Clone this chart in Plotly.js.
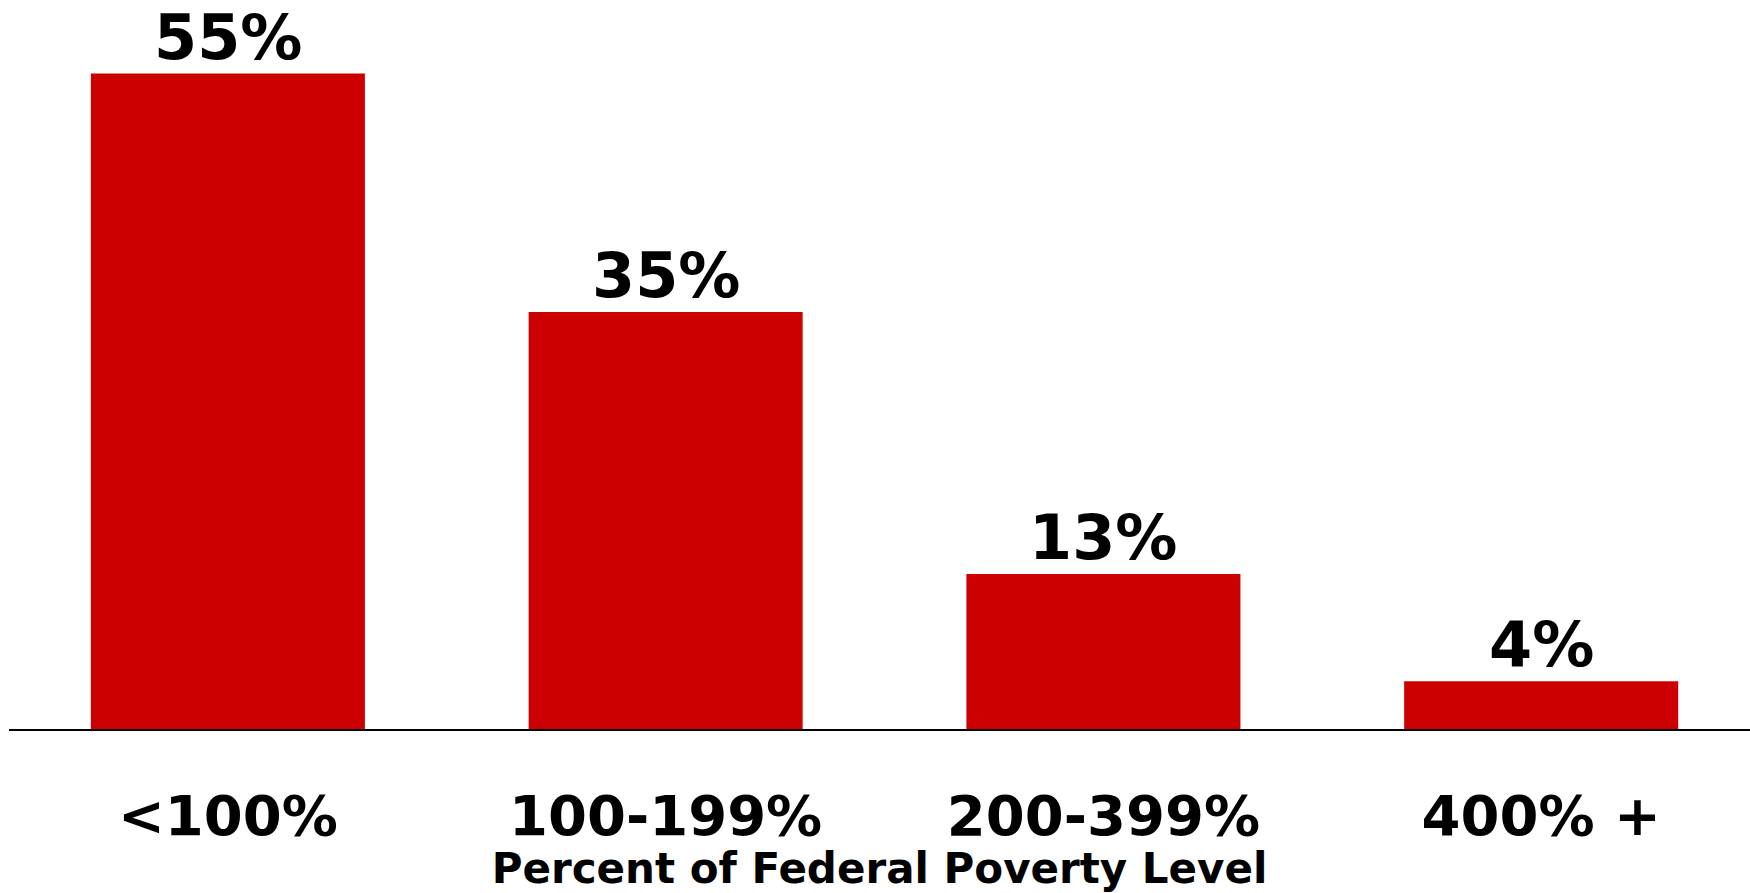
<!DOCTYPE html>
<html>
<head>
<meta charset="utf-8">
<script src="https://cdn.plot.ly/plotly-3.0.1.min.js"></script>
<style>html,body{margin:0;padding:0;background:#fff;}#chart{width:1750px;height:893px;}</style>
</head>
<body>
<div id="chart"></div>
<script>
const categories = ["<100%", "100-199%", "200-399%", "400% +"];
const values = [55, 35, 13, 4];
const valueLabels = ["55%", "35%", "13%", "4%"];
const xTitle = "Percent of Federal Poverty Level";

const trace = {
  type: "bar",
  x: categories,
  y: values,
  cliponaxis: false,
  marker: {color: "#CC0000", line: {width: 0}},
  hoverinfo: "none"
};

const annotations = categories.map((c, i) => ({
  x: c,
  y: values[i],
  xref: "x",
  yref: "y",
  text: valueLabels[i],
  showarrow: false,
  yanchor: "bottom",
  yshift: -1,
  borderpad: 0,
  font: {family: "DejaVu Sans", size: 62, color: "#000", weight: "bold"}
}));

const layout = {
  width: 1750,
  height: 893,
  margin: {l: 9, r: 0, t: 14, b: 164},
  paper_bgcolor: "#fff",
  plot_bgcolor: "#fff",
  showlegend: false,
  bargap: 0.374,
  annotations: annotations,
  xaxis: {
    type: "category",
    range: [-0.5, 3.477],
    showline: true,
    linecolor: "#000",
    linewidth: 1.5,
    showgrid: false,
    zeroline: false,
    ticks: "",
    ticklabelstandoff: 37,
    tickfont: {family: "DejaVu Sans", size: 56, color: "#000", weight: "bold"},
    title: {text: xTitle, standoff: 20, font: {family: "DejaVu Sans", size: 42, color: "#000", weight: "bold"}},
    automargin: false
  },
  yaxis: {
    range: [0, 60],
    visible: false,
    showgrid: false,
    zeroline: false,
    fixedrange: true
  }
};

Plotly.newPlot("chart", [trace], layout, {displayModeBar: false, staticPlot: true});
</script>
</body>
</html>
